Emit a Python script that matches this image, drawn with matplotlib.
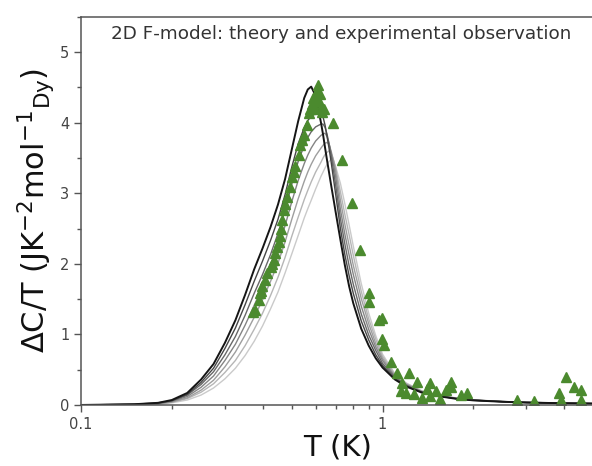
import matplotlib
matplotlib.use("Agg")
import matplotlib.pyplot as plt
from matplotlib.ticker import LogLocator, NullFormatter, MultipleLocator

# temperature grid shared by the theory curves (K)
T_grid = [0.10, 0.15, 0.18, 0.20, 0.225, 0.25, 0.275, 0.30, 0.325, 0.35,
          0.375, 0.40, 0.425, 0.45, 0.475, 0.50, 0.525, 0.55, 0.565, 0.58,
          0.60, 0.625, 0.635, 0.645, 0.655, 0.665, 0.675, 0.69, 0.70, 0.725,
          0.75, 0.775, 0.80, 0.85, 0.90, 0.95, 1.0, 1.1, 1.2, 1.35,
          1.5, 1.75, 2.0, 2.5, 3.0, 4.0, 5.0]

# F-model theory curves, black -> light grey
theory_0 = [0.0, 0.01, 0.03, 0.07, 0.17, 0.36, 0.58, 0.88, 1.2, 1.56,
            1.92, 2.22, 2.52, 2.84, 3.2, 3.62, 4.02, 4.35, 4.47, 4.51,
            4.38, 4.0, 3.83, 3.64, 3.46, 3.29, 3.12, 2.88, 2.72, 2.34,
            1.98, 1.68, 1.44, 1.08, 0.84, 0.66, 0.53, 0.36, 0.26, 0.175,
            0.13, 0.088, 0.065, 0.045, 0.034, 0.024, 0.019]
theory_1 = [0.0, 0.01, 0.03, 0.06, 0.15, 0.32, 0.52, 0.80, 1.09, 1.42,
            1.75, 2.04, 2.33, 2.63, 2.98, 3.37, 3.7, 3.93, 4.03, 4.09,
            4.13, 4.14, 4.08, 3.96, 3.8, 3.63, 3.45, 3.16, 2.97, 2.5,
            2.13, 1.83, 1.58, 1.19, 0.92, 0.71, 0.56, 0.37, 0.27, 0.18,
            0.133, 0.09, 0.066, 0.046, 0.035, 0.025, 0.019]
theory_2 = [0.0, 0.01, 0.02, 0.06, 0.14, 0.29, 0.47, 0.71, 0.97, 1.27,
            1.58, 1.85, 2.13, 2.43, 2.76, 3.13, 3.45, 3.68, 3.79, 3.87,
            3.94, 3.98, 3.98, 3.93, 3.83, 3.7, 3.55, 3.28, 3.1, 2.64,
            2.28, 1.97, 1.71, 1.29, 0.99, 0.77, 0.59, 0.39, 0.277, 0.183,
            0.135, 0.092, 0.067, 0.047, 0.035, 0.025, 0.02]
theory_3 = [0.0, 0.005, 0.02, 0.05, 0.12, 0.25, 0.41, 0.63, 0.86, 1.13,
            1.41, 1.67, 1.94, 2.22, 2.54, 2.88, 3.18, 3.42, 3.54, 3.64,
            3.74, 3.82, 3.84, 3.85, 3.8, 3.7, 3.57, 3.38, 3.22, 2.77,
            2.42, 2.12, 1.85, 1.40, 1.07, 0.82, 0.63, 0.40, 0.285, 0.188,
            0.138, 0.094, 0.068, 0.048, 0.036, 0.026, 0.02]
theory_4 = [0.0, 0.003, 0.02, 0.04, 0.10, 0.21, 0.35, 0.54, 0.75, 0.99,
            1.24, 1.49, 1.75, 2.01, 2.31, 2.63, 2.92, 3.17, 3.3, 3.41,
            3.53, 3.64, 3.68, 3.71, 3.72, 3.69, 3.6, 3.44, 3.31, 2.9,
            2.56, 2.26, 1.98, 1.51, 1.15, 0.87, 0.66, 0.41, 0.293, 0.192,
            0.14, 0.096, 0.07, 0.048, 0.037, 0.026, 0.02]
theory_5 = [0.0, 0.002, 0.01, 0.04, 0.09, 0.18, 0.30, 0.46, 0.63, 0.84,
            1.07, 1.30, 1.55, 1.81, 2.09, 2.39, 2.66, 2.91, 3.04, 3.16,
            3.3, 3.44, 3.5, 3.55, 3.58, 3.6, 3.57, 3.45, 3.35, 3.02,
            2.7, 2.41, 2.12, 1.61, 1.22, 0.93, 0.69, 0.43, 0.302, 0.196,
            0.143, 0.098, 0.071, 0.049, 0.037, 0.026, 0.021]
theory_6 = [0.0, 0.0, 0.01, 0.03, 0.07, 0.14, 0.24, 0.37, 0.52, 0.70,
            0.90, 1.12, 1.36, 1.6, 1.87, 2.14, 2.4, 2.65, 2.78, 2.9,
            3.06, 3.24, 3.3, 3.36, 3.41, 3.45, 3.48, 3.43, 3.37, 3.14,
            2.85, 2.55, 2.25, 1.72, 1.3, 0.98, 0.72, 0.44, 0.31, 0.2,
            0.145, 0.1, 0.072, 0.05, 0.038, 0.027, 0.021]

theory_curves = [theory_6, theory_5, theory_4, theory_3, theory_2, theory_1, theory_0]
curve_colors = ['#cacaca', '#b6b6b6', '#9e9e9e', '#848484', '#686868', '#464646', '#151515']

# experimental points
T_exp = [0.373, 0.378, 0.388, 0.393, 0.395, 0.398, 0.408, 0.414, 0.425, 0.43,
         0.435, 0.441, 0.447, 0.452, 0.456, 0.460, 0.464, 0.470, 0.475, 0.482,
         0.494, 0.501, 0.51, 0.514, 0.527, 0.534, 0.54, 0.548, 0.562, 0.569,
         0.575, 0.584, 0.59, 0.599, 0.60, 0.605, 0.610, 0.615, 0.62, 0.625,
         0.63, 0.638, 0.686, 0.735, 0.793, 0.845, 0.900, 0.900, 0.972, 0.997,
         0.997, 1.01, 1.064, 1.119, 1.15, 1.162, 1.2, 1.222, 1.27, 1.303,
         1.35, 1.4, 1.442, 1.442, 1.5, 1.55, 1.619, 1.682, 1.682, 1.816,
         1.910, 2.804, 3.17, 3.85, 3.90, 4.05, 4.32, 4.55, 4.55]
C_exp = [1.32, 1.35, 1.49, 1.58, 1.62, 1.68, 1.77, 1.87, 1.96, 2.0,
         2.05, 2.15, 2.24, 2.31, 2.40, 2.50, 2.62, 2.76, 2.85, 2.95,
         3.09, 3.23, 3.3, 3.38, 3.54, 3.68, 3.75, 3.82, 3.97, 4.13,
         4.2, 4.27, 4.35, 4.37, 4.2, 4.45, 4.53, 4.3, 4.4, 4.22,
         4.15, 4.2, 3.99, 3.47, 2.86, 2.2, 1.58, 1.46, 1.2, 1.23,
         0.94, 0.85, 0.61, 0.45, 0.2, 0.31, 0.17, 0.45, 0.15, 0.33,
         0.1, 0.22, 0.31, 0.12, 0.2, 0.08, 0.21, 0.33, 0.26, 0.14,
         0.17, 0.07, 0.05, 0.17, 0.07, 0.40, 0.26, 0.21, 0.07]

plt.rcParams['font.family'] = 'DejaVu Sans'
plt.rcParams['mathtext.default'] = 'regular'

fig = plt.figure(figsize=(5.92, 4.66), dpi=100)
ax = fig.add_axes([0.137, 0.131, 0.865, 0.833])

for vals, col in zip(theory_curves, curve_colors):
    lw = 1.4 if col == '#151515' else 1.0
    ax.plot(T_grid, vals, color=col, lw=lw)

ax.plot(T_exp, C_exp, linestyle='none', marker='^', markersize=6.5,
        color='#4b8a2e', markeredgecolor='#4b8a2e')

ax.set_xscale('log')
ax.set_xlim(0.1, 5.0)
ax.set_ylim(0, 5.5)

ax.set_xticks([0.1, 1])
ax.set_xticklabels(['0.1', '1'])
ax.xaxis.set_minor_locator(LogLocator(base=10, subs=[2, 3, 4, 5, 6, 7, 8, 9]))
ax.xaxis.set_minor_formatter(NullFormatter())
ax.set_yticks([0, 1, 2, 3, 4, 5])
ax.yaxis.set_minor_locator(MultipleLocator(0.5))

ax.tick_params(which='major', direction='out', length=5, width=1, colors='#555555',
               labelcolor='#444444', labelsize=10.5)
ax.tick_params(which='minor', direction='out', length=3, width=1, colors='#555555')

for side in ['left', 'bottom', 'top']:
    ax.spines[side].set_color('#555555')
    ax.spines[side].set_linewidth(1.1)
ax.spines['right'].set_visible(False)

ax.set_xlabel('T (K)', fontsize=21, color='#111111', labelpad=1)
ax.set_ylabel('ΔC/T (JK$^{-2}$mol$^{-1}$$_{Dy}$)', fontsize=22, color='#111111', labelpad=2)

ax.text(0.508, 0.978, '2D F-model: theory and experimental observation',
        transform=ax.transAxes, ha='center', va='top', fontsize=13.2, color='#333333')

fig.savefig('out.png', dpi=100)
